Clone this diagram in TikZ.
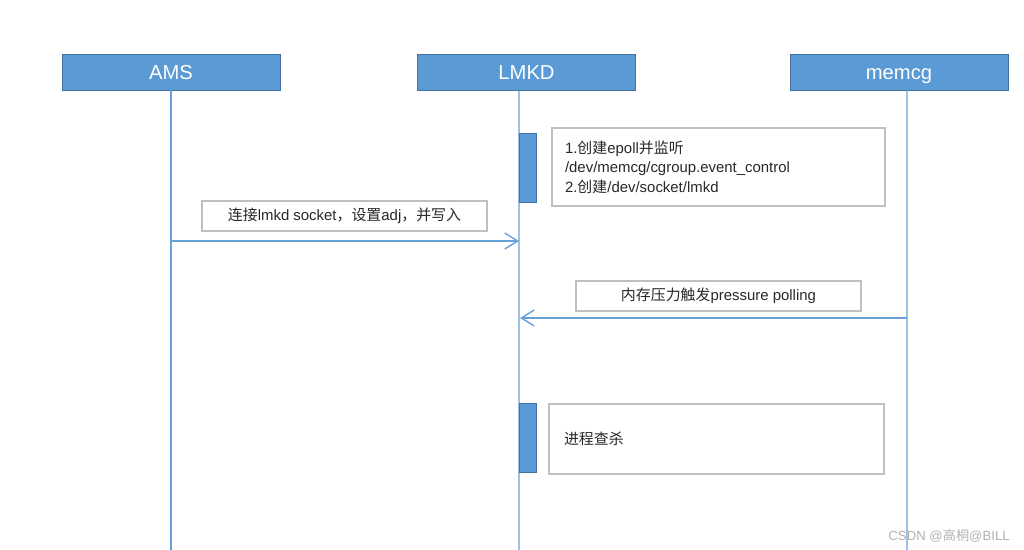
\documentclass[tikz,border=0pt]{standalone}
\usepackage{fontspec}
\setmainfont{Liberation Sans}
\newfontfamily\cjk{Noto Sans CJK SC}
\usetikzlibrary{arrows.meta,positioning}
\definecolor{headblue}{RGB}{91,155,213}
\definecolor{headedge}{RGB}{65,113,156}
\definecolor{lifeblue}{RGB}{104,160,218}
\definecolor{notegray}{RGB}{191,191,191}
\definecolor{textdark}{RGB}{40,40,40}
\tikzstyle{header} = [draw=headedge, fill=headblue, text=white, minimum width=4.36cm, minimum height=0.72cm, inner sep=0pt, text height=10pt, text depth=2pt, font=\fontsize{11.5}{13}\selectfont]
\tikzstyle{lifeline} = [draw=lifeblue, line width=0.8pt]
\tikzstyle{activation} = [draw=headedge, fill=headblue, minimum width=0.34cm, minimum height=1.38cm, inner sep=0pt]
\tikzstyle{note} = [draw=notegray, line width=0.8pt, fill=white, text=textdark, align=left, font=\fontsize{8.5}{11}\selectfont]
\tikzstyle{label} = [draw=notegray, line width=0.8pt, fill=white, text=textdark, minimum width=5.7cm, minimum height=0.6cm, inner sep=0pt, font=\fontsize{8.5}{11}\selectfont]
\tikzstyle{message} = [draw=lifeblue, line width=0.8pt, -{Straight Barb[length=0.26cm,width=0.32cm]}]

\begin{document}
\begin{tikzpicture}[x=0.02cm, y=-0.02cm]
\useasboundingbox (0,0) rectangle (1024,550);

% Participants
\node[header] (ams) at (171,72) {AMS};
\node[header] (lmkd) at (526.5,72.5) {LMKD};
\node[header] (memcg) at (899,72) {memcg};

% Lifelines
\coordinate (amsEnd) at (171,550);
\coordinate (lmkdEnd) at (519,550);
\coordinate (memcgEnd) at (907,550);
\draw[lifeline] (ams.south) -- (amsEnd);
\draw[lifeline] ([xshift=-0.15cm]lmkd.south) -- (lmkdEnd);
\draw[lifeline] ([xshift=0.16cm]memcg.south) -- (memcgEnd);

% LMKD init
\node[activation] (initBar) at (527.5,167.5) {};
\node[note, text width=6.14cm, inner xsep=0.26cm, minimum height=1.56cm] (initNote) at (718.5,167) {1.{\cjk 创建}epoll{\cjk 并监听}\\/dev/memcg/cgroup.event\_control\\2.{\cjk 创建}/dev/socket/lmkd};

% AMS connects to lmkd
\node[label] (connectLabel) at (344.5,216) {{\cjk 连接}lmkd socket{\cjk ，设置}adj{\cjk ，并写入}};
\coordinate (amsOut) at (171,241);
\coordinate (lmkdIn) at (519,241);
\draw[message] (amsOut) -- (lmkdIn);

% memcg pressure event
\node[label] (pressureLabel) at (718.5,296) {{\cjk 内存压力触发}pressure polling};
\coordinate (memcgOut) at (907,318);
\coordinate (lmkdPoll) at (520,318);
\draw[message] (memcgOut) -- (lmkdPoll);

% Kill process
\node[activation] (killBar) at (527.5,437.5) {};
\node[note, text width=6.1cm, inner xsep=0.3cm, minimum height=1.4cm] (killNote) at (716.5,439) {{\cjk 进程查杀}};

% Watermark
\node[anchor=east, text=gray!60, inner sep=0pt, font=\fontsize{7.5}{9}\selectfont] (mark) at (1010,536) {CSDN @{\cjk 高桐}@BILL};
\end{tikzpicture}
\end{document}
